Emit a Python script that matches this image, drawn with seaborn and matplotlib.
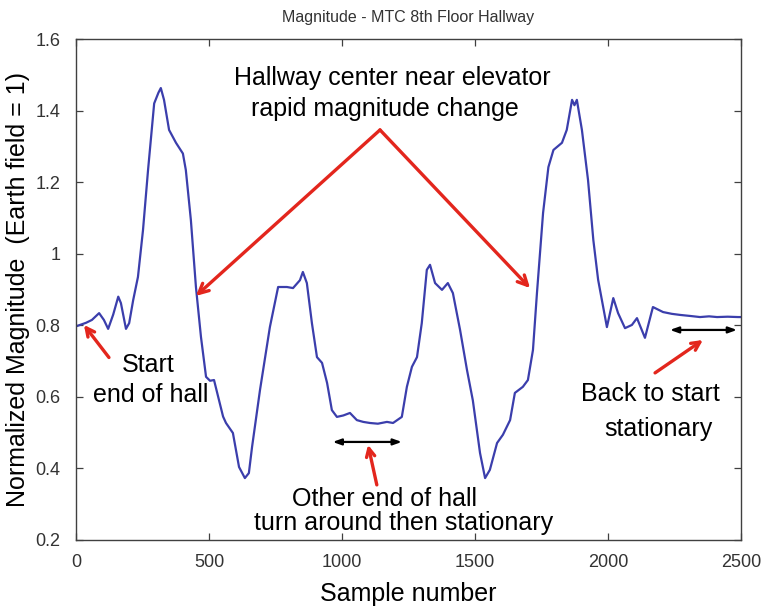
import matplotlib
matplotlib.use("Agg")
import matplotlib.pyplot as plt
import seaborn as sns
import pandas as pd

# Magnetometer magnitude trace walking the 8th floor hallway
samples = [0, 38, 60, 87, 105, 121, 140, 159, 169, 188, 200, 215, 233, 252, 271,
           294, 310, 319, 331, 350, 376, 402, 413, 432, 451, 470, 489, 504, 519,
           538, 553, 564, 590, 613, 635, 650, 662, 692, 729, 760, 793, 816, 842,
           853, 868, 887, 906, 925, 944, 962, 981, 1005, 1030, 1056, 1080, 1105,
           1135, 1169, 1192, 1225, 1244, 1263, 1282, 1300, 1319, 1331, 1350, 1376,
           1398, 1417, 1444, 1470, 1492, 1519, 1538, 1556, 1583, 1605, 1632, 1650,
           1680, 1699, 1718, 1733, 1756, 1776, 1795, 1827, 1845, 1865, 1874, 1883,
           1902, 1925, 1945, 1963, 1982, 1996, 2020, 2038, 2064, 2090, 2109, 2139,
           2169, 2207, 2240, 2271, 2310, 2346, 2380, 2410, 2450, 2489, 2500]
magnitude = [0.797, 0.807, 0.815, 0.834, 0.815, 0.790, 0.830, 0.880, 0.862, 0.790,
             0.806, 0.870, 0.935, 1.066, 1.234, 1.420, 1.450, 1.463, 1.430, 1.346,
             1.310, 1.280, 1.234, 1.094, 0.907, 0.767, 0.656, 0.645, 0.647, 0.590,
             0.545, 0.527, 0.499, 0.404, 0.373, 0.387, 0.460, 0.620, 0.795, 0.907,
             0.907, 0.904, 0.926, 0.949, 0.918, 0.806, 0.711, 0.695, 0.639, 0.563,
             0.544, 0.548, 0.555, 0.535, 0.530, 0.527, 0.525, 0.530, 0.527, 0.544,
             0.628, 0.684, 0.711, 0.806, 0.955, 0.969, 0.918, 0.899, 0.918, 0.890,
             0.787, 0.675, 0.590, 0.443, 0.373, 0.396, 0.471, 0.494, 0.535, 0.611,
             0.628, 0.647, 0.731, 0.890, 1.114, 1.242, 1.290, 1.310, 1.346, 1.430,
             1.415, 1.430, 1.346, 1.206, 1.038, 0.927, 0.851, 0.795, 0.876, 0.834,
             0.792, 0.801, 0.820, 0.765, 0.851, 0.837, 0.832, 0.829, 0.826, 0.823,
             0.825, 0.823, 0.824, 0.823, 0.823]

x_ticks = [0, 500, 1000, 1500, 2000, 2500]
y_ticks = [0.2, 0.4, 0.6, 0.8, 1.0, 1.2, 1.4, 1.6]
y_tick_labels = ["0.2", "0.4", "0.6", "0.8", "1", "1.2", "1.4", "1.6"]

df = pd.DataFrame({"sample": samples, "magnitude": magnitude})

sns.set_style("white")
plt.rcParams["font.family"] = ["Liberation Sans", "DejaVu Sans"]
plt.rcParams["text.color"] = "black"
plt.rcParams["axes.labelcolor"] = "black"

fig = plt.figure(figsize=(7.65, 6.07), dpi=100)
ax = fig.add_axes([0.0993, 0.1104, 0.8693, 0.8253])

sns.lineplot(data=df, x="sample", y="magnitude", ax=ax, color="#3b3eac",
             linewidth=1.6, sort=False)

ax.set_xlim(0, 2500)
ax.set_ylim(0.2, 1.6)
ax.set_xticks(x_ticks)
ax.set_yticks(y_ticks)
ax.set_xticklabels([str(t) for t in x_ticks])
ax.set_yticklabels(y_tick_labels)
for lab in ax.get_xticklabels() + ax.get_yticklabels():
    lab.set_fontsize(13)
    lab.set_color("#333333")
ax.tick_params(direction="in", length=5, width=0.9, color="#404040",
               top=True, right=True, bottom=True, left=True)
ax.tick_params(axis="x", pad=10)
ax.tick_params(axis="y", pad=11)
for sp in ax.spines.values():
    sp.set_color("#404040")
    sp.set_linewidth(1.0)
    sp.set_visible(True)

ax.set_xlabel("Sample number", fontsize=18, labelpad=8)
ax.set_ylabel("Normalized Magnitude  (Earth field = 1)", fontsize=18, labelpad=4)
ax.set_title("Magnitude - MTC 8th Floor Hallway", fontsize=11.5, color="#333333",
             pad=12)

red = "#e3261d"
ann_fs = 18

# Elevator annotation with two arrows
ax.text(1190, 1.49, "Hallway center near elevator", ha="center", va="center",
        fontsize=ann_fs)
ax.text(1160, 1.405, "rapid magnitude change", ha="center", va="center",
        fontsize=ann_fs)
apex = (1143, 1.346)
for tip in [(451, 0.882), (1707, 0.904)]:
    ax.annotate("", xy=tip, xytext=apex,
                arrowprops=dict(arrowstyle="->,head_length=0.7,head_width=0.35",
                                color=red, lw=2.4, shrinkA=0, shrinkB=0))

# Start of walk
ax.text(270, 0.69, "Start", ha="center", va="center", fontsize=ann_fs)
ax.text(280, 0.605, "end of hall", ha="center", va="center", fontsize=ann_fs)
ax.annotate("", xy=(30, 0.801), xytext=(124, 0.71),
            arrowprops=dict(arrowstyle="->,head_length=0.6,head_width=0.3",
                            color=red, lw=2.4, shrinkA=0, shrinkB=0))

# Far end of the hallway
ax.annotate("", xy=(965, 0.474), xytext=(1225, 0.474),
            arrowprops=dict(arrowstyle="<|-|>,head_length=0.5,head_width=0.18",
                            color="black", lw=1.6, shrinkA=0, shrinkB=0))
ax.annotate("", xy=(1098, 0.466), xytext=(1131, 0.354),
            arrowprops=dict(arrowstyle="->,head_length=0.6,head_width=0.3",
                            color=red, lw=2.4, shrinkA=0, shrinkB=0))
ax.text(1160, 0.315, "Other end of hall", ha="center", va="center",
        fontsize=ann_fs)
ax.text(1230, 0.247, "turn around then stationary", ha="center", va="center",
        fontsize=ann_fs)

# Return to start
ax.annotate("", xy=(2233, 0.787), xytext=(2485, 0.787),
            arrowprops=dict(arrowstyle="<|-|>,head_length=0.5,head_width=0.18",
                            color="black", lw=1.6, shrinkA=0, shrinkB=0))
ax.annotate("", xy=(2357, 0.759), xytext=(2177, 0.667),
            arrowprops=dict(arrowstyle="->,head_length=0.6,head_width=0.3",
                            color=red, lw=2.4, shrinkA=0, shrinkB=0))
ax.text(2160, 0.608, "Back to start", ha="center", va="center", fontsize=ann_fs)
ax.text(2190, 0.511, "stationary", ha="center", va="center", fontsize=ann_fs)

fig.savefig("out.png", dpi=100, facecolor="white")
